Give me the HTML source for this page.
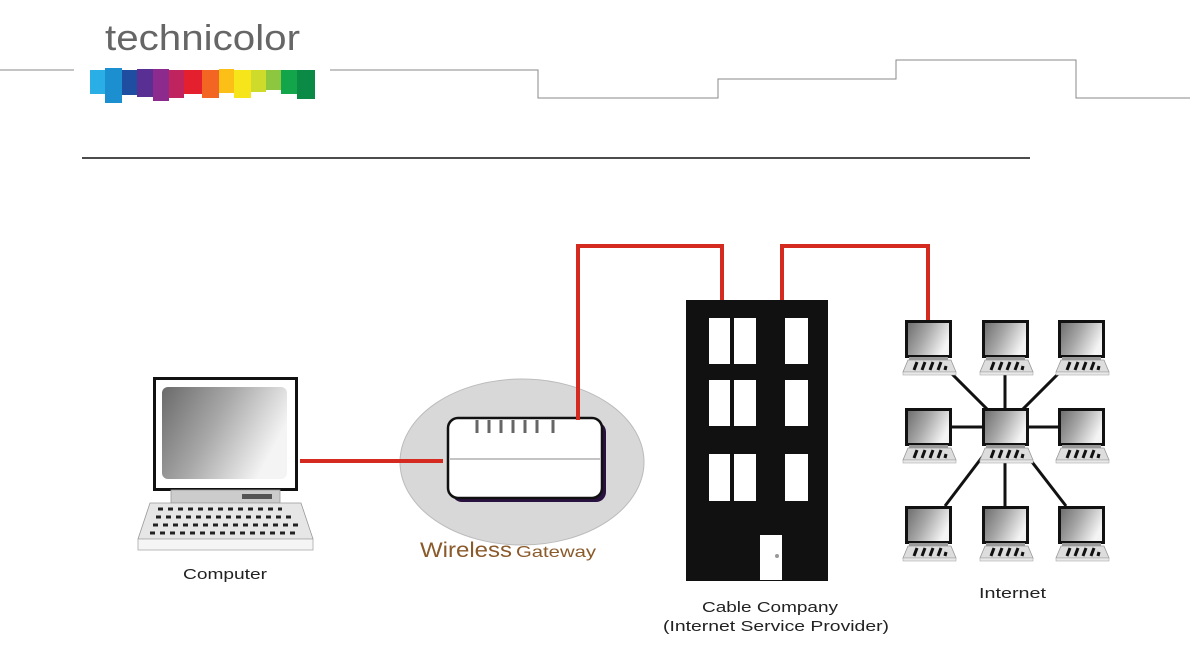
<!DOCTYPE html>
<html><head><meta charset="utf-8"><style>
html,body{margin:0;padding:0;background:#fff;}
svg{display:block;}
</style></head><body>
<svg width="1190" height="660" viewBox="0 0 1190 660" xmlns="http://www.w3.org/2000/svg" font-family="Liberation Sans, Arial, sans-serif">
<defs>
<linearGradient id="scr" x1="0" y1="0" x2="1" y2="0.4">
<stop offset="0" stop-color="#6a6a6a"/><stop offset="0.5" stop-color="#a8a8a8"/><stop offset="1" stop-color="#f4f4f4"/>
</linearGradient>
<g id="pc">
<rect x="1.5" y="1.5" width="44" height="35" fill="url(#scr)" stroke="#111" stroke-width="3"/>
<rect x="4" y="37" width="39" height="3" fill="#999"/>
<polygon points="3,40 46,40 51,52 -2,52" fill="#ddd" stroke="#999" stroke-width="0.8"/>
<rect x="-2" y="52" width="53" height="3" fill="#e8e8e8" stroke="#aaa" stroke-width="0.6"/>
<g stroke="#111" stroke-width="3">
<line x1="9" y1="50" x2="12" y2="42"/><line x1="17" y1="50" x2="20" y2="42"/><line x1="25" y1="50" x2="28" y2="42"/><line x1="33" y1="50" x2="36" y2="42"/><line x1="40" y1="50" x2="41" y2="46"/>
</g>
</g>
</defs>
<!-- header -->
<text x="105" y="50" font-size="36" fill="#666" textLength="195" lengthAdjust="spacingAndGlyphs">technicolor</text>
<g>
<rect x="90" y="70" width="15" height="24" fill="#29aee6"/>
<rect x="105" y="68" width="17" height="35" fill="#1c8fd0"/>
<rect x="122" y="70" width="15" height="25" fill="#1f4ea1"/>
<rect x="137" y="69" width="16" height="28" fill="#5a2f93"/>
<rect x="153" y="69" width="16" height="32" fill="#8c2a8e"/>
<rect x="169" y="70" width="15" height="28" fill="#c0245f"/>
<rect x="184" y="70" width="18" height="24" fill="#e5202e"/>
<rect x="202" y="70" width="17" height="28" fill="#f26522"/>
<rect x="219" y="69" width="15" height="24" fill="#fbbf18"/>
<rect x="234" y="70" width="17" height="28" fill="#f5e51a"/>
<rect x="251" y="70" width="15" height="22" fill="#cedb2a"/>
<rect x="266" y="70" width="15" height="20" fill="#8dc63f"/>
<rect x="281" y="70" width="16" height="24" fill="#13a54a"/>
<rect x="297" y="70" width="18" height="29" fill="#0b8a45"/>
</g>
<g fill="none" stroke="#888" stroke-width="1">
<polyline points="0,70 74,70"/>
<polyline points="330,70 538,70 538,98 718,98 718,79 896,79 896,60 1076,60 1076,98 1190,98"/>
</g>
<line x1="82" y1="158" x2="1030" y2="158" stroke="#111" stroke-width="1.5"/>
<!-- red lines -->
<g fill="none" stroke="#d42a20" stroke-width="4">
<polyline points="578,420 578,246 722,246 722,300"/>
<polyline points="782,300 782,246 928,246 928,322"/>
</g>
<!-- computer -->
<rect x="154.5" y="378.5" width="142" height="111" fill="#fff" stroke="#111" stroke-width="3"/>
<rect x="162" y="387" width="125" height="92" rx="6" fill="url(#scr)"/>
<rect x="171" y="490" width="109" height="13" fill="#ccc" stroke="#999" stroke-width="0.8"/>
<rect x="242" y="494" width="30" height="5" fill="#555"/>
<polygon points="150,503 301,503 313,539 138,539" fill="#e6e6e6" stroke="#999" stroke-width="0.8"/>
<rect x="138" y="539" width="175" height="11" fill="#f5f5f5" stroke="#aaa" stroke-width="0.8"/>
<g stroke="#222" stroke-width="3" stroke-dasharray="5,5">
<line x1="158" y1="509" x2="282" y2="509"/>
<line x1="156" y1="517" x2="294" y2="517"/>
<line x1="153" y1="525" x2="298" y2="525"/>
<line x1="150" y1="533" x2="300" y2="533"/>
</g>
<text x="183" y="579" font-size="15" fill="#222" textLength="84" lengthAdjust="spacingAndGlyphs">Computer</text>
<!-- gateway -->
<ellipse cx="522" cy="462" rx="122" ry="83" fill="#d8d8d8" stroke="#bbb" stroke-width="1"/>
<line x1="300" y1="461" x2="443" y2="461" stroke="#d42a20" stroke-width="4"/>
<rect x="452" y="422" width="154" height="80" rx="10" fill="#2a1240"/>
<rect x="448" y="418" width="154" height="80" rx="10" fill="#fff" stroke="#111" stroke-width="2.5"/>
<line x1="450" y1="459" x2="600" y2="459" stroke="#888" stroke-width="1"/>
<g stroke="#666" stroke-width="3">
<line x1="477" y1="420" x2="477" y2="433"/><line x1="489" y1="420" x2="489" y2="433"/><line x1="501" y1="420" x2="501" y2="433"/><line x1="513" y1="420" x2="513" y2="433"/><line x1="525" y1="420" x2="525" y2="433"/><line x1="537" y1="420" x2="537" y2="433"/><line x1="553" y1="420" x2="553" y2="433"/>
</g>
<line x1="578" y1="380" x2="578" y2="420" stroke="#d42a20" stroke-width="4"/>
<text x="420" y="557" font-size="21" fill="#8a5a2a" textLength="92" lengthAdjust="spacingAndGlyphs">Wireless</text>
<text x="516" y="557" font-size="16" fill="#8a5a2a" textLength="80" lengthAdjust="spacingAndGlyphs">Gateway</text>
<!-- building -->
<rect x="686" y="300" width="142" height="281" fill="#111"/>
<g fill="#fff">
<rect x="709" y="318" width="21" height="46"/><rect x="734" y="318" width="22" height="46"/><rect x="785" y="318" width="23" height="46"/>
<rect x="709" y="380" width="21" height="46"/><rect x="734" y="380" width="22" height="46"/><rect x="785" y="380" width="23" height="46"/>
<rect x="709" y="454" width="21" height="47"/><rect x="734" y="454" width="22" height="47"/><rect x="785" y="454" width="23" height="47"/>
<rect x="760" y="535" width="22" height="45"/>
</g>
<circle cx="777" cy="556" r="2" fill="#999"/>
<text x="702" y="612" font-size="15" fill="#222" textLength="136" lengthAdjust="spacingAndGlyphs">Cable Company</text>
<text x="663" y="631" font-size="15" fill="#222" textLength="226" lengthAdjust="spacingAndGlyphs">(Internet Service Provider)</text>
<!-- internet -->
<g stroke="#111" stroke-width="3">
<line x1="1005" y1="427" x2="950" y2="372"/>
<line x1="1005" y1="427" x2="1005" y2="372"/>
<line x1="1005" y1="427" x2="1060" y2="372"/>
<line x1="1005" y1="427" x2="950" y2="427"/>
<line x1="1005" y1="427" x2="1060" y2="427"/>
<line x1="1005" y1="427" x2="945" y2="506"/>
<line x1="1005" y1="427" x2="1005" y2="506"/>
<line x1="1005" y1="427" x2="1066" y2="506"/>
</g>
<use href="#pc" x="905" y="320"/><use href="#pc" x="982" y="320"/><use href="#pc" x="1058" y="320"/>
<use href="#pc" x="905" y="408"/><use href="#pc" x="982" y="408"/><use href="#pc" x="1058" y="408"/>
<use href="#pc" x="905" y="506"/><use href="#pc" x="982" y="506"/><use href="#pc" x="1058" y="506"/>
<text x="979" y="598" font-size="15" fill="#222" textLength="67" lengthAdjust="spacingAndGlyphs">Internet</text>
</svg>
</body></html>
